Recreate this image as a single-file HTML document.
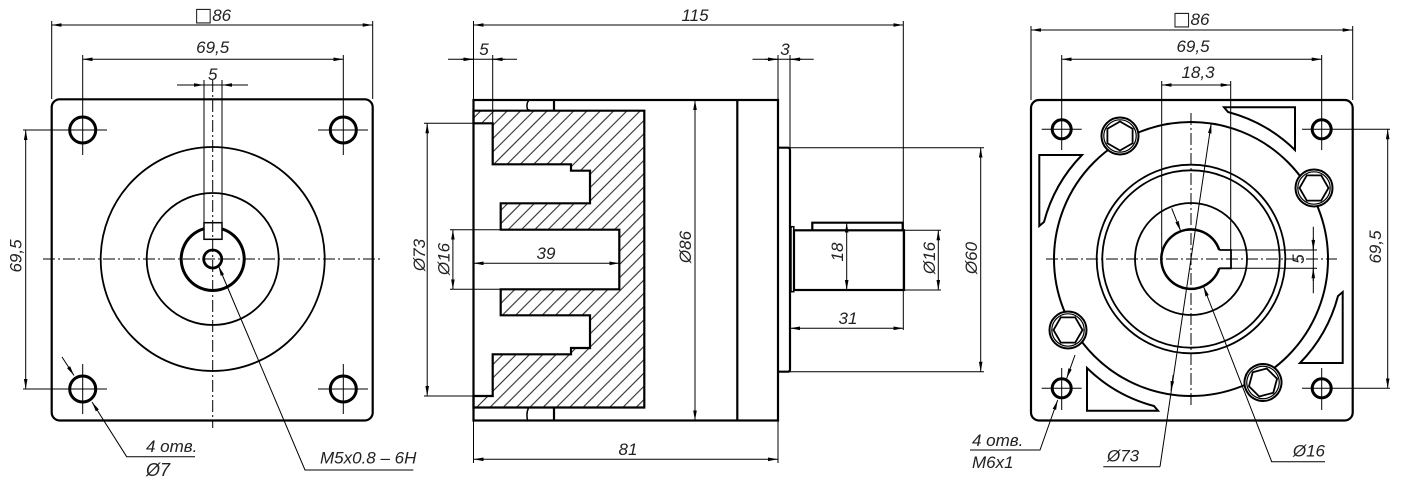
<!DOCTYPE html>
<html>
<head>
<meta charset="utf-8">
<style>
html,body{margin:0;padding:0;background:#fff;}
svg{display:block;}
.k{stroke:#000;stroke-width:2.2;fill:none}
.t{stroke:#000;stroke-width:1;fill:none}
.c{stroke:#000;stroke-width:1;fill:none;stroke-dasharray:12 3 2 3}
.d{stroke:#000;stroke-width:1;fill:none;marker-start:url(#a);marker-end:url(#a)}
.e{stroke:#000;stroke-width:1;fill:none;marker-end:url(#a)}
text{font-family:"Liberation Sans","DejaVu Sans",sans-serif;font-style:italic;font-size:17px;fill:#222}
.m{text-anchor:middle}
.sq{font-family:"DejaVu Sans",sans-serif;font-style:normal;font-size:19px}
</style>
</head>
<body>
<svg width="1402" height="489" viewBox="0 0 1402 489" xmlns="http://www.w3.org/2000/svg">
<defs>
<marker id="a" markerUnits="userSpaceOnUse" markerWidth="11" markerHeight="6" refX="10" refY="3" orient="auto-start-reverse">
<path d="M0,1.2 L10,3 L0,4.8 Z" fill="#000"/>
</marker>
<pattern id="h" patternUnits="userSpaceOnUse" width="9.4" height="10" patternTransform="rotate(45)">
<line x1="4.7" y1="-1" x2="4.7" y2="11" stroke="#000" stroke-width="0.9"/>
</pattern>
</defs>
<rect width="1402" height="489" fill="#fff"/>

<!-- ============ LEFT VIEW ============ -->
<rect class="k" x="51.7" y="99.3" width="321" height="321.2" rx="8"/>
<path class="t" d="M23,130H107 M82.7,55V155 M318,130H368 M343.3,55V155 M23,389H107 M82.7,364V414 M318,389H368 M343.3,364V414"/>
<circle cx="82.7" cy="130" r="13" fill="none" stroke="#000" stroke-width="3"/>
<circle cx="343.3" cy="130" r="13" fill="none" stroke="#000" stroke-width="3"/>
<circle cx="82.7" cy="389" r="13" fill="none" stroke="#000" stroke-width="3"/>
<circle cx="343.3" cy="389" r="13" fill="none" stroke="#000" stroke-width="3"/>
<circle cx="212.7" cy="259" r="112" fill="none" stroke="#000" stroke-width="1.8"/>
<circle cx="212.7" cy="259" r="66" fill="none" stroke="#000" stroke-width="1.8"/>
<path d="M221.7,228.8 A31.5,31.5 0 1 1 203.7,228.8" fill="none" stroke="#000" stroke-width="3"/>
<circle cx="212.7" cy="259" r="9" fill="none" stroke="#000" stroke-width="2.8"/>
<rect x="204" y="222.7" width="18" height="16.6" fill="none" stroke="#000" stroke-width="1.5"/>
<path class="t" d="M204,80V222.7 M222,80V222.7"/>
<path class="c" d="M43,259H383 M212.7,80V428"/>
<!-- dims -->
<path class="t" d="M51.7,21V99 M372.7,21V99"/>
<path class="d" d="M51.7,25H372.7"/>
<text class="m" x="212.7" y="21"><tspan class="sq">□</tspan>86</text>
<path class="d" d="M82.7,59.3H343.3"/>
<text class="m" x="212.7" y="53">69,5</text>
<path class="t" d="M177,85H248"/>
<path class="e" d="M190,85H204"/>
<path class="e" d="M236,85H222"/>
<text class="m" x="212.7" y="80">5</text>
<path class="d" d="M25.7,130V389"/>
<text class="m" transform="translate(21.5,256) rotate(-90)">69,5</text>
<path class="e" d="M195,456.7H126.7L92,402"/>
<path class="e" d="M62,357L74,375.5"/>
<text x="146" y="452">4 отв.</text>
<text x="146" y="476" style="font-size:18px">Ø7</text>
<path class="e" d="M413.3,470H305L218.5,266"/>
<text x="320" y="463.3">M5x0.8 – 6H</text>

<!-- ============ MIDDLE VIEW ============ -->
<path fill="url(#h)" stroke="#000" stroke-width="2.2" d="M473.5,110.7 L644.3,110.7 L644.3,407.5 L473.5,407.5 L473.5,396 L492.7,396 L492.7,354.3 L571,354.3 L571,348 L590,348 L590,315.3 L500.7,315.3 L500.7,289.3 L619.3,289.3 L619.3,229.7 L500.7,229.7 L500.7,203.3 L590,203.3 L590,170.7 L571,170.7 L571,164.3 L492.7,164.3 L492.7,123.3 L473.5,123.3 Z"/>
<rect class="k" x="473.5" y="100" width="304.5" height="320.5"/>
<path class="k" d="M737.3,100V420.5"/>
<path class="k" d="M554,100V110.7 M554,407.5V420.5"/>
<path d="M528.5,100.5 Q526,104 527.5,109.5 L530,110.5 M528.5,408 Q526,413 527.5,420" fill="none" stroke="#000" stroke-width="1.5"/>
<path class="k" d="M778,147.7H788Q790,147.7 790,150V369.5Q790,371.7 788,371.7H778"/>
<rect x="791" y="226.7" width="2.8" height="65" fill="none" stroke="#000" stroke-width="1.5"/>
<rect class="k" x="794" y="230.3" width="110" height="59.7"/>
<path class="k" d="M812.3,230.3V222.7H902.7V230.3"/>
<!-- dims -->
<path class="t" d="M473.5,21V100 M903.3,21V330"/>
<path class="d" d="M473.5,25H903.3"/>
<text class="m" x="695" y="21">115</text>
<path class="t" d="M448,59.3H517 M492.7,55V123.3"/>
<path class="e" d="M461,59.3H473.5"/>
<path class="e" d="M505,59.3H492.7"/>
<text class="m" x="484" y="55">5</text>
<path class="t" d="M752.5,59.3H813.7 M778,55V100 M790,55V147.7"/>
<path class="e" d="M765,59.3H778"/>
<path class="e" d="M802,59.3H790"/>
<text class="m" x="785" y="55">3</text>
<path class="t" d="M424,123.3H473.5 M424,396H473.5"/>
<path class="d" d="M427.2,123.3V396"/>
<text class="m" transform="translate(425,255) rotate(-90)">Ø73</text>
<path class="t" d="M450,229.7H500.7 M450,289.3H500.7"/>
<path class="d" d="M452.9,229.7V289.3"/>
<text class="m" transform="translate(449.5,259) rotate(-90)">Ø16</text>
<path class="d" d="M473.5,263.3H619.3"/>
<text class="m" x="546" y="259">39</text>
<path class="d" d="M695,100V420.5"/>
<text class="m" transform="translate(691,247) rotate(-90)">Ø86</text>
<path class="d" d="M846.7,222.7V290"/>
<text class="m" transform="translate(843,252) rotate(-90)">18</text>
<path class="t" d="M904,230.3H941 M904,290H941"/>
<path class="d" d="M938.3,230.3V290"/>
<text class="m" transform="translate(935,258) rotate(-90)">Ø16</text>
<path class="t" d="M790,147.7H984 M790,371.7H984"/>
<path class="d" d="M980.7,147.7V371.7"/>
<text class="m" transform="translate(977,258) rotate(-90)">Ø60</text>
<path class="d" d="M790,328.3H903.3"/>
<text class="m" x="848" y="324">31</text>
<path class="t" d="M473.5,420.5V463 M778,420.5V463"/>
<path class="d" d="M473.5,459.3H778"/>
<text class="m" x="628" y="455">81</text>

<!-- ============ RIGHT VIEW ============ -->
<rect class="k" x="1031" y="100" width="321.7" height="320.5" rx="8"/>
<path id="tri" d="M1224,107.3H1295V150A151,151 0 0 0 1228,112Z" fill="none" stroke="#000" stroke-width="2"/>
<use href="#tri" transform="rotate(90 1191 259)"/>
<use href="#tri" transform="rotate(180 1191 259)"/>
<use href="#tri" transform="rotate(270 1191 259)"/>
<circle cx="1191" cy="259" r="137" fill="none" stroke="#000" stroke-width="2"/>
<circle cx="1191" cy="259" r="94.3" fill="none" stroke="#000" stroke-width="1.8"/>
<circle cx="1191" cy="259" r="88.7" fill="none" stroke="#000" stroke-width="1.8"/>
<circle cx="1191" cy="259" r="56" fill="none" stroke="#000" stroke-width="1.8"/>
<path d="M1219.25,250 A29.7,29.7 0 1 0 1219.25,268.3" fill="none" stroke="#000" stroke-width="2.5"/>
<path d="M1219.25,250H1231V268.3H1219.25" fill="none" stroke="#000" stroke-width="1.8"/>
<path class="c" d="M1046,259H1337 M1191,113V405"/>
<path class="t" d="M1041.7,129.3H1081.7 M1061.7,55V150 M1302,129.3H1390 M1321.7,55V150 M1041.7,388.3H1081.7 M1061.7,368V410 M1302,388.3H1390 M1321.7,368V410"/>
<circle cx="1061.7" cy="129.3" r="9.5" fill="none" stroke="#000" stroke-width="3"/>
<circle cx="1321.7" cy="129.3" r="9.5" fill="none" stroke="#000" stroke-width="3"/>
<circle cx="1061.7" cy="388.3" r="9.5" fill="none" stroke="#000" stroke-width="3"/>
<circle cx="1321.7" cy="388.3" r="9.5" fill="none" stroke="#000" stroke-width="3"/>
<!-- bosses -->
<g transform="translate(1120,136)">
<circle r="18.5" fill="#fff" stroke="#000" stroke-width="2"/>
<circle r="16.2" fill="none" stroke="#000" stroke-width="1.2"/>
<polygon points="0,-14.5 12.6,-7.25 12.6,7.25 0,14.5 -12.6,7.25 -12.6,-7.25" fill="none" stroke="#000" stroke-width="1.8"/>
</g>
<g transform="translate(1314,188)">
<circle r="18.5" fill="#fff" stroke="#000" stroke-width="2"/>
<circle r="16.2" fill="none" stroke="#000" stroke-width="1.2"/>
<polygon points="14.5,0 7.25,12.6 -7.25,12.6 -14.5,0 -7.25,-12.6 7.25,-12.6" fill="none" stroke="#000" stroke-width="1.8"/>
</g>
<g transform="translate(1263,382.5) rotate(15)">
<circle r="18.5" fill="#fff" stroke="#000" stroke-width="2"/>
<circle r="16.2" fill="none" stroke="#000" stroke-width="1.2"/>
<polygon points="0,-14.5 12.6,-7.25 12.6,7.25 0,14.5 -12.6,7.25 -12.6,-7.25" fill="none" stroke="#000" stroke-width="1.8"/>
</g>
<g transform="translate(1068,330)">
<circle r="18.5" fill="#fff" stroke="#000" stroke-width="2"/>
<circle r="16.2" fill="none" stroke="#000" stroke-width="1.2"/>
<polygon points="14.5,0 7.25,12.6 -7.25,12.6 -14.5,0 -7.25,-12.6 7.25,-12.6" fill="none" stroke="#000" stroke-width="1.8"/>
</g>
<!-- dims -->
<path class="t" d="M1031,26V100 M1352.7,26V100"/>
<path class="d" d="M1031,30H1352.7"/>
<text class="m" x="1191" y="25"><tspan class="sq">□</tspan>86</text>
<path class="d" d="M1061.7,59.3H1321.7"/>
<text class="m" x="1193" y="52">69,5</text>
<path class="t" d="M1161.7,81V259 M1230.7,81V250"/>
<path class="d" d="M1161.7,85H1230.7"/>
<text class="m" x="1198" y="78">18,3</text>
<path class="d" d="M1387.7,129.3V388.3"/>
<text class="m" transform="translate(1381,247) rotate(-90)">69,5</text>
<path class="t" d="M1231,250H1317 M1231,268.3H1317 M1313.3,226.7V293.3"/>
<path class="e" d="M1313.3,238V250"/>
<path class="e" d="M1313.3,281V268.3"/>
<text class="m" transform="translate(1304,259) rotate(-90)">5</text>
<path class="t" d="M1103.3,466.7H1160"/>
<path class="e" d="M1160,466.7L1211.2,123.5"/>
<path class="e" d="M1173.2,375L1171,391"/>
<text x="1107" y="461.5">Ø73</text>
<path class="e" d="M1171.7,208.3L1180.7,231"/>
<path class="e" d="M1325,461.7H1271.7L1203.5,286.5"/>
<text x="1325" y="456.5" style="text-anchor:end">Ø16</text>
<path class="e" d="M970,450H1040L1057.7,400"/>
<path class="e" d="M1075,355L1066.7,378.3"/>
<text x="972" y="446">4 отв.</text>
<text x="972" y="468">M6x1</text>
</svg>
</body>
</html>
